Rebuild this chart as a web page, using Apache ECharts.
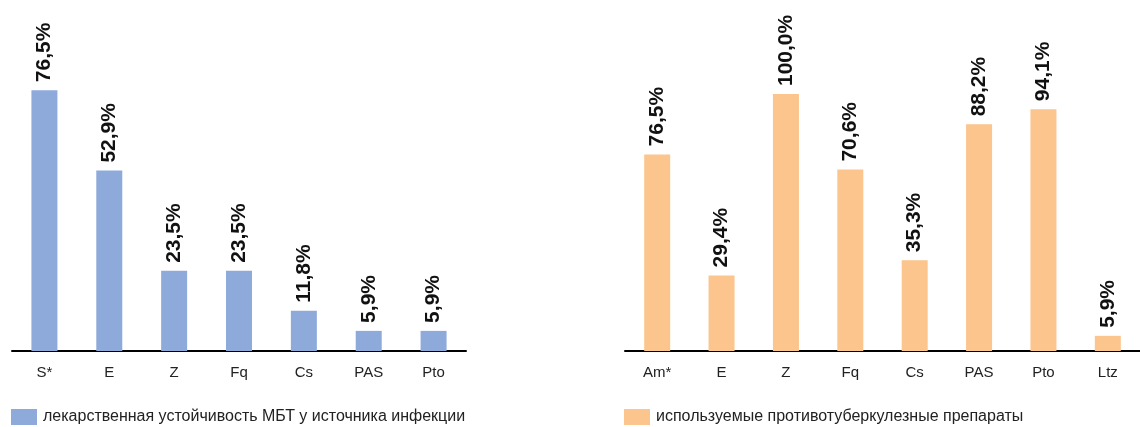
<!DOCTYPE html>
<html>
<head>
<meta charset="utf-8">
<script src="https://cdn.jsdelivr.net/npm/echarts@6/dist/echarts.min.js"></script>
<style>
  html, body { margin: 0; padding: 0; background: #fff; }
  #chart { width: 1140px; height: 427px; }
</style>
</head>
<body>
<div id="chart"></div>
<script>
// Drug resistance of the infection source (left panel)
const sourceCategories = ['S*', 'E', 'Z', 'Fq', 'Cs', 'PAS', 'Pto'];
const sourceValues = [76.5, 52.9, 23.5, 23.5, 11.8, 5.9, 5.9];
const sourceName = 'лекарственная устойчивость МБТ у источника инфекции';

// Anti-TB drugs used (right panel)
const usedCategories = ['Am*', 'E', 'Z', 'Fq', 'Cs', 'PAS', 'Pto', 'Ltz'];
const usedValues = [76.5, 29.4, 100.0, 70.6, 35.3, 88.2, 94.1, 5.9];
const usedName = 'используемые противотуберкулезные препараты';

const FONT = '"Liberation Sans", Arial, Helvetica, sans-serif';

function pct(v) {
  return v.toFixed(1).replace('.', ',') + '%';
}

function xAxisFor(gridIndex, cats) {
  return {
    type: 'category',
    gridIndex: gridIndex,
    data: cats,
    axisTick: { show: false },
    axisLine: { lineStyle: { color: '#000', width: 2 } },
    axisLabel: { color: '#222', fontSize: 15, fontFamily: FONT, margin: 14 }
  };
}

function yAxisFor(gridIndex) {
  return {
    type: 'value',
    gridIndex: gridIndex,
    min: 0,
    max: 100,
    show: false
  };
}

function barSeries(name, values, idx, color) {
  return {
    type: 'bar',
    name: name,
    xAxisIndex: idx,
    yAxisIndex: idx,
    data: values,
    barWidth: 26,
    itemStyle: { color: color },
    label: {
      show: true,
      position: 'top',
      rotate: 90,
      align: 'left',
      verticalAlign: 'middle',
      distance: 8,
      color: '#111',
      fontSize: 21,
      fontWeight: 'bold',
      fontFamily: FONT,
      formatter: p => pct(p.value)
    }
  };
}

function legendFor(name, left) {
  return {
    data: [name],
    left: left,
    top: 409,
    padding: 0,
    itemWidth: 26,
    itemHeight: 16,
    icon: 'rect',
    textStyle: { color: '#222', fontSize: 16, fontFamily: FONT, padding: [0, 0, 0, 1] }
  };
}

const chart = echarts.init(document.getElementById('chart'), null, { renderer: 'canvas' });

chart.setOption({
  animation: false,
  backgroundColor: '#fff',
  grid: [
    { left: 12, width: 454, top: 10, bottom: 76 },
    { left: 625, right: -2, top: 94, bottom: 76 }
  ],
  xAxis: [xAxisFor(0, sourceCategories), xAxisFor(1, usedCategories)],
  yAxis: [yAxisFor(0), yAxisFor(1)],
  legend: [legendFor(sourceName, 11), legendFor(usedName, 624)],
  series: [
    barSeries(sourceName, sourceValues, 0, '#8eaadb'),
    barSeries(usedName, usedValues, 1, '#fbc58d')
  ]
});
</script>
</body>
</html>
